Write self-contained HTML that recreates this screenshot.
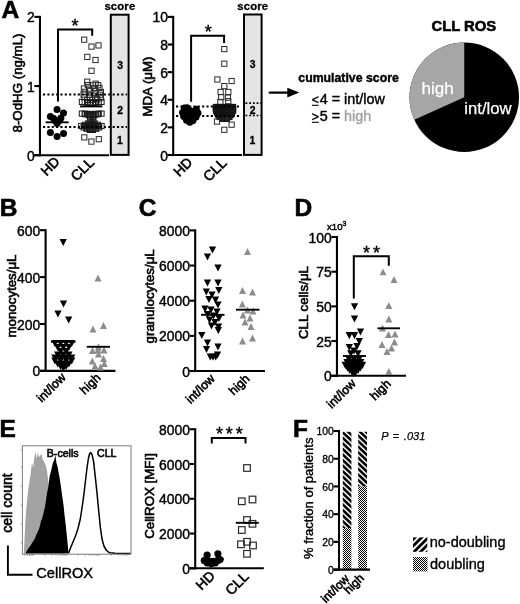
<!DOCTYPE html>
<html lang="en"><head><meta charset="utf-8"><title>CLL ROS figure</title>
<style>html,body{margin:0;padding:0;background:#fff}body{width:520px;height:604px;overflow:hidden}svg{display:block}text{font-family:"Liberation Sans",Arial,Helvetica,sans-serif}</style>
</head><body>
<svg width="520" height="604" viewBox="0 0 520 604">
<defs>
<pattern id="hb" width="4.06" height="4.06" patternUnits="userSpaceOnUse" patternTransform="rotate(43)"><rect width="4.06" height="4.06" fill="#fff"/><rect width="4.06" height="2.6" fill="#000"/></pattern>
<pattern id="hl" width="4.7" height="4.7" patternUnits="userSpaceOnUse" patternTransform="rotate(-45)"><rect width="4.7" height="4.7" fill="#fff"/><rect width="4.7" height="2.8" fill="#000"/></pattern>
<pattern id="ck" width="2" height="2" patternUnits="userSpaceOnUse"><rect width="2" height="2" fill="#fff"/><rect width="1" height="1" fill="#000"/><rect x="1" y="1" width="1" height="1" fill="#000"/></pattern>
</defs>
<rect width="520" height="604" fill="#fff"/>
<text x="1.50" y="18.30" font-size="24.5" text-anchor="start" font-weight="bold" fill="#000" stroke="#000" stroke-width="0.6">A</text>
<text x="-0.30" y="216.00" font-size="24.5" text-anchor="start" font-weight="bold" fill="#000" stroke="#000" stroke-width="0.6">B</text>
<text x="138.70" y="216.00" font-size="24.5" text-anchor="start" font-weight="bold" fill="#000" stroke="#000" stroke-width="0.6">C</text>
<text x="294.40" y="216.00" font-size="24.5" text-anchor="start" font-weight="bold" fill="#000" stroke="#000" stroke-width="0.6">D</text>
<text x="-0.50" y="437.30" font-size="24.5" text-anchor="start" font-weight="bold" fill="#000" stroke="#000" stroke-width="0.6">E</text>
<text x="293.00" y="437.20" font-size="24.5" text-anchor="start" font-weight="bold" fill="#000" stroke="#000" stroke-width="0.6">F</text>
<rect x="110.8" y="14.7" width="17.8" height="140.2" fill="#e4e4e4" stroke="#000" stroke-width="2"/>
<text x="119.90" y="9.80" font-size="11.3" text-anchor="middle" font-weight="bold" fill="#000" stroke="#000" stroke-width="0.3" letter-spacing="0.15">score</text>
<text x="120.20" y="69.00" font-size="10.4" text-anchor="middle" font-weight="bold" fill="#000" stroke="#000" stroke-width="0.3">3</text>
<text x="120.20" y="114.30" font-size="10.4" text-anchor="middle" font-weight="bold" fill="#000" stroke="#000" stroke-width="0.3">2</text>
<text x="119.80" y="144.20" font-size="10.4" text-anchor="middle" font-weight="bold" fill="#000" stroke="#000" stroke-width="0.3">1</text>
<line x1="39.95" y1="15.85" x2="39.95" y2="156.25" stroke="#000" stroke-width="2.1"/>
<line x1="34.35" y1="155.20" x2="109.00" y2="155.20" stroke="#000" stroke-width="2.1"/>
<line x1="34.35" y1="16.90" x2="39.95" y2="16.90" stroke="#000" stroke-width="2.1"/>
<text x="34.65" y="22.46" font-size="13.9" text-anchor="end" fill="#000" stroke="#000" stroke-width="0.4">2</text>
<line x1="34.35" y1="86.05" x2="39.95" y2="86.05" stroke="#000" stroke-width="2.1"/>
<text x="34.65" y="91.61" font-size="13.9" text-anchor="end" fill="#000" stroke="#000" stroke-width="0.4">1</text>
<line x1="34.35" y1="155.20" x2="39.95" y2="155.20" stroke="#000" stroke-width="2.1"/>
<text x="34.65" y="160.76" font-size="13.9" text-anchor="end" fill="#000" stroke="#000" stroke-width="0.4">0</text>
<text x="21.50" y="83.00" font-size="13.3" text-anchor="middle" fill="#000" stroke="#000" stroke-width="0.6" transform="rotate(-90 21.50 83.00)">8-OdHG (ng/mL)</text>
<rect x="81.60" y="37.10" width="5.20" height="5.20" fill="none" stroke="#2a2a2a" stroke-width="1.0"/>
<rect x="88.90" y="44.00" width="5.20" height="5.20" fill="none" stroke="#2a2a2a" stroke-width="1.0"/>
<rect x="95.90" y="42.80" width="5.20" height="5.20" fill="none" stroke="#2a2a2a" stroke-width="1.0"/>
<rect x="84.70" y="54.30" width="5.20" height="5.20" fill="none" stroke="#2a2a2a" stroke-width="1.0"/>
<rect x="92.90" y="57.40" width="5.20" height="5.20" fill="none" stroke="#2a2a2a" stroke-width="1.0"/>
<rect x="88.90" y="68.20" width="5.20" height="5.20" fill="none" stroke="#2a2a2a" stroke-width="1.0"/>
<rect x="84.60" y="79.10" width="5.20" height="5.20" fill="none" stroke="#2a2a2a" stroke-width="1.0"/>
<rect x="93.00" y="81.10" width="5.20" height="5.20" fill="none" stroke="#2a2a2a" stroke-width="1.0"/>
<rect x="85.20" y="82.44" width="5.20" height="5.20" fill="none" stroke="#2a2a2a" stroke-width="1.0"/>
<rect x="90.40" y="82.74" width="5.20" height="5.20" fill="none" stroke="#2a2a2a" stroke-width="1.0"/>
<rect x="95.60" y="82.57" width="5.20" height="5.20" fill="none" stroke="#2a2a2a" stroke-width="1.0"/>
<rect x="81.30" y="85.90" width="5.20" height="5.20" fill="none" stroke="#2a2a2a" stroke-width="1.0"/>
<rect x="86.50" y="85.93" width="5.20" height="5.20" fill="none" stroke="#2a2a2a" stroke-width="1.0"/>
<rect x="91.70" y="85.37" width="5.20" height="5.20" fill="none" stroke="#2a2a2a" stroke-width="1.0"/>
<rect x="96.90" y="85.31" width="5.20" height="5.20" fill="none" stroke="#2a2a2a" stroke-width="1.0"/>
<rect x="82.10" y="89.24" width="5.20" height="5.20" fill="none" stroke="#2a2a2a" stroke-width="1.0"/>
<rect x="87.50" y="88.66" width="5.20" height="5.20" fill="none" stroke="#2a2a2a" stroke-width="1.0"/>
<rect x="92.90" y="88.63" width="5.20" height="5.20" fill="none" stroke="#2a2a2a" stroke-width="1.0"/>
<rect x="98.30" y="89.40" width="5.20" height="5.20" fill="none" stroke="#2a2a2a" stroke-width="1.0"/>
<rect x="80.95" y="91.97" width="5.20" height="5.20" fill="none" stroke="#2a2a2a" stroke-width="1.0"/>
<rect x="86.45" y="92.34" width="5.20" height="5.20" fill="none" stroke="#2a2a2a" stroke-width="1.0"/>
<rect x="91.95" y="91.98" width="5.20" height="5.20" fill="none" stroke="#2a2a2a" stroke-width="1.0"/>
<rect x="97.45" y="92.14" width="5.20" height="5.20" fill="none" stroke="#2a2a2a" stroke-width="1.0"/>
<rect x="81.85" y="94.65" width="5.20" height="5.20" fill="none" stroke="#2a2a2a" stroke-width="1.0"/>
<rect x="87.35" y="95.13" width="5.20" height="5.20" fill="none" stroke="#2a2a2a" stroke-width="1.0"/>
<rect x="92.85" y="95.37" width="5.20" height="5.20" fill="none" stroke="#2a2a2a" stroke-width="1.0"/>
<rect x="98.35" y="95.02" width="5.20" height="5.20" fill="none" stroke="#2a2a2a" stroke-width="1.0"/>
<rect x="84.60" y="97.24" width="5.20" height="5.20" fill="none" stroke="#2a2a2a" stroke-width="1.0"/>
<rect x="89.60" y="97.17" width="5.20" height="5.20" fill="none" stroke="#2a2a2a" stroke-width="1.0"/>
<rect x="94.60" y="96.56" width="5.20" height="5.20" fill="none" stroke="#2a2a2a" stroke-width="1.0"/>
<rect x="79.30" y="99.30" width="5.20" height="5.20" fill="none" stroke="#1a1a1a" stroke-width="1.0"/>
<rect x="82.10" y="99.56" width="5.20" height="5.20" fill="none" stroke="#1a1a1a" stroke-width="1.0"/>
<rect x="84.90" y="99.81" width="5.20" height="5.20" fill="none" stroke="#1a1a1a" stroke-width="1.0"/>
<rect x="87.70" y="100.07" width="5.20" height="5.20" fill="none" stroke="#1a1a1a" stroke-width="1.0"/>
<rect x="90.50" y="100.07" width="5.20" height="5.20" fill="none" stroke="#1a1a1a" stroke-width="1.0"/>
<rect x="93.30" y="99.81" width="5.20" height="5.20" fill="none" stroke="#1a1a1a" stroke-width="1.0"/>
<rect x="96.10" y="99.56" width="5.20" height="5.20" fill="none" stroke="#1a1a1a" stroke-width="1.0"/>
<rect x="98.90" y="99.30" width="5.20" height="5.20" fill="none" stroke="#1a1a1a" stroke-width="1.0"/>
<rect x="85.50" y="100.00" width="5.20" height="5.20" fill="none" stroke="#1a1a1a" stroke-width="1.0"/>
<rect x="87.90" y="100.40" width="5.20" height="5.20" fill="none" stroke="#1a1a1a" stroke-width="1.0"/>
<rect x="90.30" y="100.40" width="5.20" height="5.20" fill="none" stroke="#1a1a1a" stroke-width="1.0"/>
<rect x="92.70" y="100.00" width="5.20" height="5.20" fill="none" stroke="#1a1a1a" stroke-width="1.0"/>
<rect x="79.30" y="111.00" width="5.20" height="5.20" fill="none" stroke="#1a1a1a" stroke-width="1.0"/>
<rect x="82.10" y="111.14" width="5.20" height="5.20" fill="none" stroke="#1a1a1a" stroke-width="1.0"/>
<rect x="84.90" y="111.29" width="5.20" height="5.20" fill="none" stroke="#1a1a1a" stroke-width="1.0"/>
<rect x="87.70" y="111.43" width="5.20" height="5.20" fill="none" stroke="#1a1a1a" stroke-width="1.0"/>
<rect x="90.50" y="111.43" width="5.20" height="5.20" fill="none" stroke="#1a1a1a" stroke-width="1.0"/>
<rect x="93.30" y="111.29" width="5.20" height="5.20" fill="none" stroke="#1a1a1a" stroke-width="1.0"/>
<rect x="96.10" y="111.14" width="5.20" height="5.20" fill="none" stroke="#1a1a1a" stroke-width="1.0"/>
<rect x="98.90" y="111.00" width="5.20" height="5.20" fill="none" stroke="#1a1a1a" stroke-width="1.0"/>
<rect x="82.85" y="111.60" width="5.20" height="5.20" fill="none" stroke="#1a1a1a" stroke-width="1.0"/>
<rect x="85.35" y="111.88" width="5.20" height="5.20" fill="none" stroke="#1a1a1a" stroke-width="1.0"/>
<rect x="87.85" y="112.16" width="5.20" height="5.20" fill="none" stroke="#1a1a1a" stroke-width="1.0"/>
<rect x="90.35" y="112.16" width="5.20" height="5.20" fill="none" stroke="#1a1a1a" stroke-width="1.0"/>
<rect x="92.85" y="111.88" width="5.20" height="5.20" fill="none" stroke="#1a1a1a" stroke-width="1.0"/>
<rect x="95.35" y="111.60" width="5.20" height="5.20" fill="none" stroke="#1a1a1a" stroke-width="1.0"/>
<rect x="86.50" y="112.60" width="5.20" height="5.20" fill="none" stroke="#1a1a1a" stroke-width="1.0"/>
<rect x="89.10" y="113.00" width="5.20" height="5.20" fill="none" stroke="#1a1a1a" stroke-width="1.0"/>
<rect x="91.70" y="112.60" width="5.20" height="5.20" fill="none" stroke="#1a1a1a" stroke-width="1.0"/>
<rect x="87.60" y="114.40" width="5.20" height="5.20" fill="none" stroke="#1a1a1a" stroke-width="1.0"/>
<rect x="90.60" y="114.40" width="5.20" height="5.20" fill="none" stroke="#1a1a1a" stroke-width="1.0"/>
<rect x="87.60" y="116.90" width="5.20" height="5.20" fill="none" stroke="#1a1a1a" stroke-width="1.0"/>
<rect x="90.60" y="116.90" width="5.20" height="5.20" fill="none" stroke="#1a1a1a" stroke-width="1.0"/>
<rect x="85.60" y="120.80" width="5.20" height="5.20" fill="none" stroke="#1a1a1a" stroke-width="1.0"/>
<rect x="88.80" y="120.80" width="5.20" height="5.20" fill="none" stroke="#1a1a1a" stroke-width="1.0"/>
<rect x="92.00" y="120.80" width="5.20" height="5.20" fill="none" stroke="#1a1a1a" stroke-width="1.0"/>
<rect x="82.40" y="122.20" width="5.20" height="5.20" fill="none" stroke="#1a1a1a" stroke-width="1.0"/>
<rect x="85.60" y="122.20" width="5.20" height="5.20" fill="none" stroke="#1a1a1a" stroke-width="1.0"/>
<rect x="88.80" y="122.20" width="5.20" height="5.20" fill="none" stroke="#1a1a1a" stroke-width="1.0"/>
<rect x="92.00" y="122.20" width="5.20" height="5.20" fill="none" stroke="#1a1a1a" stroke-width="1.0"/>
<rect x="95.20" y="122.20" width="5.20" height="5.20" fill="none" stroke="#1a1a1a" stroke-width="1.0"/>
<rect x="78.65" y="123.40" width="5.20" height="5.20" fill="none" stroke="#1a1a1a" stroke-width="1.0"/>
<rect x="81.55" y="123.40" width="5.20" height="5.20" fill="none" stroke="#1a1a1a" stroke-width="1.0"/>
<rect x="84.45" y="123.40" width="5.20" height="5.20" fill="none" stroke="#1a1a1a" stroke-width="1.0"/>
<rect x="87.35" y="123.40" width="5.20" height="5.20" fill="none" stroke="#1a1a1a" stroke-width="1.0"/>
<rect x="90.25" y="123.40" width="5.20" height="5.20" fill="none" stroke="#1a1a1a" stroke-width="1.0"/>
<rect x="93.15" y="123.40" width="5.20" height="5.20" fill="none" stroke="#1a1a1a" stroke-width="1.0"/>
<rect x="96.05" y="123.40" width="5.20" height="5.20" fill="none" stroke="#1a1a1a" stroke-width="1.0"/>
<rect x="98.95" y="123.40" width="5.20" height="5.20" fill="none" stroke="#1a1a1a" stroke-width="1.0"/>
<rect x="81.05" y="124.80" width="5.20" height="5.20" fill="none" stroke="#1a1a1a" stroke-width="1.0"/>
<rect x="84.15" y="124.80" width="5.20" height="5.20" fill="none" stroke="#1a1a1a" stroke-width="1.0"/>
<rect x="87.25" y="124.80" width="5.20" height="5.20" fill="none" stroke="#1a1a1a" stroke-width="1.0"/>
<rect x="90.35" y="124.80" width="5.20" height="5.20" fill="none" stroke="#1a1a1a" stroke-width="1.0"/>
<rect x="93.45" y="124.80" width="5.20" height="5.20" fill="none" stroke="#1a1a1a" stroke-width="1.0"/>
<rect x="96.55" y="124.80" width="5.20" height="5.20" fill="none" stroke="#1a1a1a" stroke-width="1.0"/>
<rect x="84.00" y="126.20" width="5.20" height="5.20" fill="none" stroke="#1a1a1a" stroke-width="1.0"/>
<rect x="87.20" y="126.20" width="5.20" height="5.20" fill="none" stroke="#1a1a1a" stroke-width="1.0"/>
<rect x="90.40" y="126.20" width="5.20" height="5.20" fill="none" stroke="#1a1a1a" stroke-width="1.0"/>
<rect x="93.60" y="126.20" width="5.20" height="5.20" fill="none" stroke="#1a1a1a" stroke-width="1.0"/>
<rect x="87.30" y="127.30" width="5.20" height="5.20" fill="none" stroke="#1a1a1a" stroke-width="1.0"/>
<rect x="90.30" y="127.30" width="5.20" height="5.20" fill="none" stroke="#1a1a1a" stroke-width="1.0"/>
<rect x="81.70" y="134.80" width="5.20" height="5.20" fill="none" stroke="#2a2a2a" stroke-width="1.0"/>
<rect x="88.80" y="139.00" width="5.20" height="5.20" fill="none" stroke="#2a2a2a" stroke-width="1.0"/>
<rect x="96.20" y="136.60" width="5.20" height="5.20" fill="none" stroke="#2a2a2a" stroke-width="1.0"/>
<circle cx="57.05" cy="109.40" r="3.5" fill="#000"/>
<circle cx="63.50" cy="112.90" r="3.5" fill="#000"/>
<circle cx="50.40" cy="116.40" r="3.5" fill="#000"/>
<circle cx="53.60" cy="118.40" r="3.5" fill="#000"/>
<circle cx="60.90" cy="118.10" r="3.5" fill="#000"/>
<circle cx="55.20" cy="120.60" r="3.5" fill="#000"/>
<circle cx="59.30" cy="120.60" r="3.5" fill="#000"/>
<circle cx="57.05" cy="123.40" r="3.5" fill="#000"/>
<circle cx="50.40" cy="132.40" r="3.5" fill="#000"/>
<circle cx="57.05" cy="136.50" r="3.5" fill="#000"/>
<circle cx="63.50" cy="133.40" r="3.5" fill="#000"/>
<line x1="45.60" y1="122.30" x2="68.60" y2="122.30" stroke="#000" stroke-width="1.9"/>
<line x1="80.00" y1="106.40" x2="102.40" y2="106.40" stroke="#000" stroke-width="1.9"/>
<line x1="43.00" y1="94.40" x2="127.00" y2="94.40" stroke="#000" stroke-width="2.0" stroke-dasharray="2.15 2.2"/>
<line x1="43.00" y1="127.00" x2="127.00" y2="127.00" stroke="#000" stroke-width="2.0" stroke-dasharray="2.15 2.2"/>
<path d="M58.00 101.50V29.60H92.20V35.80" fill="none" stroke="#000" stroke-width="2.0" stroke-linejoin="miter"/>
<text x="76.45" y="31.50" font-size="18" text-anchor="middle" fill="#000" stroke="#000" stroke-width="0.4" letter-spacing="2.9">*</text>
<text x="60.50" y="162.50" font-size="13.8" text-anchor="end" fill="#000" stroke="#000" stroke-width="0.6" transform="rotate(-45 60.50 162.50)">HD</text>
<text x="95.00" y="163.30" font-size="14.2" text-anchor="end" fill="#000" stroke="#000" stroke-width="0.6" transform="rotate(-45 95.00 163.30)">CLL</text>
<rect x="244.0" y="14.5" width="17.6" height="140.4" fill="#e4e4e4" stroke="#000" stroke-width="2"/>
<text x="252.80" y="9.60" font-size="11.3" text-anchor="middle" font-weight="bold" fill="#000" stroke="#000" stroke-width="0.3" letter-spacing="0.15">score</text>
<text x="252.70" y="68.00" font-size="10.4" text-anchor="middle" font-weight="bold" fill="#000" stroke="#000" stroke-width="0.3">3</text>
<text x="252.70" y="114.20" font-size="10.4" text-anchor="middle" font-weight="bold" fill="#000" stroke="#000" stroke-width="0.3">2</text>
<text x="252.50" y="143.70" font-size="10.4" text-anchor="middle" font-weight="bold" fill="#000" stroke="#000" stroke-width="0.3">1</text>
<line x1="173.20" y1="15.85" x2="173.20" y2="156.05" stroke="#000" stroke-width="2.1"/>
<line x1="167.60" y1="155.00" x2="242.00" y2="155.00" stroke="#000" stroke-width="2.1"/>
<line x1="167.60" y1="16.90" x2="173.20" y2="16.90" stroke="#000" stroke-width="2.1"/>
<text x="167.90" y="22.46" font-size="13.9" text-anchor="end" fill="#000" stroke="#000" stroke-width="0.4">10</text>
<line x1="167.60" y1="44.52" x2="173.20" y2="44.52" stroke="#000" stroke-width="2.1"/>
<text x="167.90" y="50.08" font-size="13.9" text-anchor="end" fill="#000" stroke="#000" stroke-width="0.4">8</text>
<line x1="167.60" y1="72.14" x2="173.20" y2="72.14" stroke="#000" stroke-width="2.1"/>
<text x="167.90" y="77.70" font-size="13.9" text-anchor="end" fill="#000" stroke="#000" stroke-width="0.4">6</text>
<line x1="167.60" y1="99.76" x2="173.20" y2="99.76" stroke="#000" stroke-width="2.1"/>
<text x="167.90" y="105.32" font-size="13.9" text-anchor="end" fill="#000" stroke="#000" stroke-width="0.4">4</text>
<line x1="167.60" y1="127.38" x2="173.20" y2="127.38" stroke="#000" stroke-width="2.1"/>
<text x="167.90" y="132.94" font-size="13.9" text-anchor="end" fill="#000" stroke="#000" stroke-width="0.4">2</text>
<line x1="167.60" y1="155.00" x2="173.20" y2="155.00" stroke="#000" stroke-width="2.1"/>
<text x="167.90" y="160.56" font-size="13.9" text-anchor="end" fill="#000" stroke="#000" stroke-width="0.4">0</text>
<text x="151.50" y="86.50" font-size="13.3" text-anchor="middle" fill="#000" stroke="#000" stroke-width="0.6" transform="rotate(-90 151.50 86.50)">MDA (&#956;M)</text>
<rect x="221.70" y="46.50" width="5.20" height="5.20" fill="none" stroke="#2a2a2a" stroke-width="1.0"/>
<rect x="221.70" y="61.10" width="5.20" height="5.20" fill="none" stroke="#2a2a2a" stroke-width="1.0"/>
<rect x="214.80" y="76.90" width="5.20" height="5.20" fill="none" stroke="#2a2a2a" stroke-width="1.0"/>
<rect x="229.00" y="78.40" width="5.20" height="5.20" fill="none" stroke="#2a2a2a" stroke-width="1.0"/>
<rect x="221.70" y="83.50" width="5.20" height="5.20" fill="none" stroke="#2a2a2a" stroke-width="1.0"/>
<rect x="218.00" y="89.40" width="5.20" height="5.20" fill="none" stroke="#2a2a2a" stroke-width="1.0"/>
<rect x="225.70" y="89.40" width="5.20" height="5.20" fill="none" stroke="#2a2a2a" stroke-width="1.0"/>
<rect x="218.60" y="94.60" width="5.20" height="5.20" fill="none" stroke="#2a2a2a" stroke-width="1.0"/>
<rect x="225.30" y="95.00" width="5.20" height="5.20" fill="none" stroke="#2a2a2a" stroke-width="1.0"/>
<rect x="217.80" y="99.40" width="5.20" height="5.20" fill="none" stroke="#2a2a2a" stroke-width="1.0"/>
<rect x="225.70" y="98.60" width="5.20" height="5.20" fill="none" stroke="#2a2a2a" stroke-width="1.0"/>
<rect x="213.33" y="104.40" width="5.20" height="5.20" fill="#222" stroke="#111" stroke-width="1.0"/>
<rect x="215.78" y="104.40" width="5.20" height="5.20" fill="#222" stroke="#111" stroke-width="1.0"/>
<rect x="218.22" y="104.40" width="5.20" height="5.20" fill="#222" stroke="#111" stroke-width="1.0"/>
<rect x="220.68" y="104.40" width="5.20" height="5.20" fill="#222" stroke="#111" stroke-width="1.0"/>
<rect x="223.12" y="104.40" width="5.20" height="5.20" fill="#222" stroke="#111" stroke-width="1.0"/>
<rect x="225.58" y="104.40" width="5.20" height="5.20" fill="#222" stroke="#111" stroke-width="1.0"/>
<rect x="228.03" y="104.40" width="5.20" height="5.20" fill="#222" stroke="#111" stroke-width="1.0"/>
<rect x="230.47" y="104.40" width="5.20" height="5.20" fill="#222" stroke="#111" stroke-width="1.0"/>
<rect x="213.33" y="106.40" width="5.20" height="5.20" fill="#222" stroke="#111" stroke-width="1.0"/>
<rect x="215.78" y="106.40" width="5.20" height="5.20" fill="#222" stroke="#111" stroke-width="1.0"/>
<rect x="218.22" y="106.40" width="5.20" height="5.20" fill="#222" stroke="#111" stroke-width="1.0"/>
<rect x="220.68" y="106.40" width="5.20" height="5.20" fill="#222" stroke="#111" stroke-width="1.0"/>
<rect x="223.12" y="106.40" width="5.20" height="5.20" fill="#222" stroke="#111" stroke-width="1.0"/>
<rect x="225.58" y="106.40" width="5.20" height="5.20" fill="#222" stroke="#111" stroke-width="1.0"/>
<rect x="228.03" y="106.40" width="5.20" height="5.20" fill="#222" stroke="#111" stroke-width="1.0"/>
<rect x="230.47" y="106.40" width="5.20" height="5.20" fill="#222" stroke="#111" stroke-width="1.0"/>
<rect x="213.33" y="108.40" width="5.20" height="5.20" fill="#222" stroke="#111" stroke-width="1.0"/>
<rect x="215.78" y="108.40" width="5.20" height="5.20" fill="#222" stroke="#111" stroke-width="1.0"/>
<rect x="218.22" y="108.40" width="5.20" height="5.20" fill="#222" stroke="#111" stroke-width="1.0"/>
<rect x="220.68" y="108.40" width="5.20" height="5.20" fill="#222" stroke="#111" stroke-width="1.0"/>
<rect x="223.12" y="108.40" width="5.20" height="5.20" fill="#222" stroke="#111" stroke-width="1.0"/>
<rect x="225.58" y="108.40" width="5.20" height="5.20" fill="#222" stroke="#111" stroke-width="1.0"/>
<rect x="228.03" y="108.40" width="5.20" height="5.20" fill="#222" stroke="#111" stroke-width="1.0"/>
<rect x="230.47" y="108.40" width="5.20" height="5.20" fill="#222" stroke="#111" stroke-width="1.0"/>
<rect x="214.55" y="110.40" width="5.20" height="5.20" fill="#222" stroke="#111" stroke-width="1.0"/>
<rect x="217.00" y="110.40" width="5.20" height="5.20" fill="#222" stroke="#111" stroke-width="1.0"/>
<rect x="219.45" y="110.40" width="5.20" height="5.20" fill="#222" stroke="#111" stroke-width="1.0"/>
<rect x="221.90" y="110.40" width="5.20" height="5.20" fill="#222" stroke="#111" stroke-width="1.0"/>
<rect x="224.35" y="110.40" width="5.20" height="5.20" fill="#222" stroke="#111" stroke-width="1.0"/>
<rect x="226.80" y="110.40" width="5.20" height="5.20" fill="#222" stroke="#111" stroke-width="1.0"/>
<rect x="229.25" y="110.40" width="5.20" height="5.20" fill="#222" stroke="#111" stroke-width="1.0"/>
<rect x="215.78" y="112.40" width="5.20" height="5.20" fill="#222" stroke="#111" stroke-width="1.0"/>
<rect x="218.22" y="112.40" width="5.20" height="5.20" fill="#222" stroke="#111" stroke-width="1.0"/>
<rect x="220.68" y="112.40" width="5.20" height="5.20" fill="#222" stroke="#111" stroke-width="1.0"/>
<rect x="223.12" y="112.40" width="5.20" height="5.20" fill="#222" stroke="#111" stroke-width="1.0"/>
<rect x="225.58" y="112.40" width="5.20" height="5.20" fill="#222" stroke="#111" stroke-width="1.0"/>
<rect x="228.03" y="112.40" width="5.20" height="5.20" fill="#222" stroke="#111" stroke-width="1.0"/>
<rect x="217.00" y="114.40" width="5.20" height="5.20" fill="#222" stroke="#111" stroke-width="1.0"/>
<rect x="219.45" y="114.40" width="5.20" height="5.20" fill="#222" stroke="#111" stroke-width="1.0"/>
<rect x="221.90" y="114.40" width="5.20" height="5.20" fill="#222" stroke="#111" stroke-width="1.0"/>
<rect x="224.35" y="114.40" width="5.20" height="5.20" fill="#222" stroke="#111" stroke-width="1.0"/>
<rect x="226.80" y="114.40" width="5.20" height="5.20" fill="#222" stroke="#111" stroke-width="1.0"/>
<rect x="219.45" y="116.20" width="5.20" height="5.20" fill="#222" stroke="#111" stroke-width="1.0"/>
<rect x="221.90" y="116.20" width="5.20" height="5.20" fill="#222" stroke="#111" stroke-width="1.0"/>
<rect x="224.35" y="116.20" width="5.20" height="5.20" fill="#222" stroke="#111" stroke-width="1.0"/>
<rect x="214.40" y="119.00" width="5.20" height="5.20" fill="none" stroke="#2a2a2a" stroke-width="1.0"/>
<rect x="229.00" y="122.10" width="5.20" height="5.20" fill="none" stroke="#2a2a2a" stroke-width="1.0"/>
<rect x="221.70" y="127.20" width="5.20" height="5.20" fill="none" stroke="#2a2a2a" stroke-width="1.0"/>
<circle cx="184.30" cy="108.00" r="3.5" fill="#000"/>
<circle cx="190.00" cy="110.50" r="3.5" fill="#000"/>
<circle cx="196.30" cy="109.30" r="3.5" fill="#000"/>
<circle cx="182.50" cy="112.50" r="3.5" fill="#000"/>
<circle cx="187.00" cy="112.00" r="3.5" fill="#000"/>
<circle cx="193.00" cy="113.00" r="3.5" fill="#000"/>
<circle cx="198.00" cy="113.00" r="3.5" fill="#000"/>
<circle cx="183.80" cy="116.50" r="3.5" fill="#000"/>
<circle cx="190.00" cy="116.00" r="3.5" fill="#000"/>
<circle cx="196.00" cy="117.00" r="3.5" fill="#000"/>
<circle cx="186.50" cy="120.30" r="3.5" fill="#000"/>
<circle cx="193.00" cy="120.50" r="3.5" fill="#000"/>
<circle cx="189.80" cy="122.20" r="3.5" fill="#000"/>
<circle cx="187.00" cy="107.70" r="3.5" fill="#000"/>
<line x1="176.00" y1="106.50" x2="241.00" y2="106.50" stroke="#000" stroke-width="2.0" stroke-dasharray="2.15 2.2"/>
<line x1="176.00" y1="116.00" x2="241.00" y2="116.00" stroke="#000" stroke-width="2.0" stroke-dasharray="2.15 2.2"/>
<line x1="245.50" y1="103.10" x2="261.00" y2="103.10" stroke="#000" stroke-width="1.6" stroke-dasharray="1.8 1.9"/>
<line x1="245.50" y1="115.50" x2="261.00" y2="115.50" stroke="#000" stroke-width="1.6" stroke-dasharray="1.8 1.9"/>
<path d="M191.10 101.70V35.70H224.10V42.90" fill="none" stroke="#000" stroke-width="2.0" stroke-linejoin="miter"/>
<text x="209.60" y="38.40" font-size="18" text-anchor="middle" fill="#000" stroke="#000" stroke-width="0.4" letter-spacing="2.9">*</text>
<text x="193.40" y="163.10" font-size="13.8" text-anchor="end" fill="#000" stroke="#000" stroke-width="0.6" transform="rotate(-45 193.40 163.10)">HD</text>
<text x="227.50" y="163.80" font-size="14.2" text-anchor="end" fill="#000" stroke="#000" stroke-width="0.6" transform="rotate(-45 227.50 163.80)">CLL</text>
<line x1="269.60" y1="92.60" x2="292.00" y2="92.60" stroke="#000" stroke-width="2.1" stroke-linecap="round"/>
<path d="M287.3 87.8L299.3 92.6L287.3 97.4Z" fill="#000"/>
<text x="298.30" y="81.60" font-size="12.3" text-anchor="start" font-weight="bold" fill="#000" stroke="#000" stroke-width="0.4">cumulative score</text>
<text x="311.70" y="104.20" font-size="14.4" text-anchor="start" fill="#000" stroke="#000" stroke-width="0.4"><tspan font-size="12.2" dy="-0.6">&lt;</tspan><tspan dx="0.8" dy="0.6">4 = int/low</tspan></text>
<line x1="311.90" y1="105.30" x2="318.70" y2="105.30" stroke="#000" stroke-width="1.1"/>
<line x1="311.90" y1="122.30" x2="318.70" y2="122.30" stroke="#000" stroke-width="1.1"/>
<text x="311.70" y="121.20" font-size="14.4" text-anchor="start" fill="#000" stroke="#000" stroke-width="0.4"><tspan font-size="12.2" dy="-0.6">&gt;</tspan><tspan dx="0.8" dy="0.6">5 = </tspan><tspan fill="#a3a3a3" stroke="#a3a3a3">high</tspan></text>
<circle cx="464.25" cy="97.25" r="54.75" fill="#000"/>
<path d="M464.25 97.25L464.25 42.5A54.75 54.75 0 0 0 414.35 119.78Z" fill="#a6a6a6"/>
<text x="463.80" y="31.20" font-size="14.8" text-anchor="middle" font-weight="bold" fill="#000" stroke="#000" stroke-width="0.6">CLL ROS</text>
<text x="421.60" y="93.80" font-size="17" text-anchor="start" fill="#fff" stroke="#fff" stroke-width="0.25">high</text>
<text x="464.30" y="114.20" font-size="16.7" text-anchor="start" fill="#fff" stroke="#fff" stroke-width="0.25">int/low</text>
<line x1="45.60" y1="229.15" x2="45.60" y2="371.95" stroke="#000" stroke-width="2.1"/>
<line x1="40.00" y1="370.90" x2="115.50" y2="370.90" stroke="#000" stroke-width="2.1"/>
<line x1="40.00" y1="230.20" x2="45.60" y2="230.20" stroke="#000" stroke-width="2.1"/>
<text x="40.30" y="235.76" font-size="13.9" text-anchor="end" fill="#000" stroke="#000" stroke-width="0.4">600</text>
<line x1="40.00" y1="277.10" x2="45.60" y2="277.10" stroke="#000" stroke-width="2.1"/>
<text x="40.30" y="282.66" font-size="13.9" text-anchor="end" fill="#000" stroke="#000" stroke-width="0.4">400</text>
<line x1="40.00" y1="324.00" x2="45.60" y2="324.00" stroke="#000" stroke-width="2.1"/>
<text x="40.30" y="329.56" font-size="13.9" text-anchor="end" fill="#000" stroke="#000" stroke-width="0.4">200</text>
<line x1="40.00" y1="370.90" x2="45.60" y2="370.90" stroke="#000" stroke-width="2.1"/>
<text x="40.30" y="376.46" font-size="13.9" text-anchor="end" fill="#000" stroke="#000" stroke-width="0.4">0</text>
<text x="16.00" y="296.00" font-size="13.3" text-anchor="middle" fill="#000" stroke="#000" stroke-width="0.6" transform="rotate(-90 16.00 296.00)">monocytes/&#956;L</text>
<path d="M59.55 238.96H66.85L63.20 246.04Z" fill="#000"/>
<path d="M59.85 300.46H67.15L63.50 307.54Z" fill="#000"/>
<path d="M54.35 310.46H61.65L58.00 317.54Z" fill="#000"/>
<path d="M65.05 316.46H72.35L68.70 323.54Z" fill="#000"/>
<path d="M51.25 339.96H58.55L54.90 347.04Z" fill="#000"/>
<path d="M56.85 339.96H64.15L60.50 347.04Z" fill="#000"/>
<path d="M62.45 339.96H69.75L66.10 347.04Z" fill="#000"/>
<path d="M68.05 339.96H75.35L71.70 347.04Z" fill="#000"/>
<path d="M54.05 343.96H61.35L57.70 351.04Z" fill="#000"/>
<path d="M59.65 343.96H66.95L63.30 351.04Z" fill="#000"/>
<path d="M65.25 343.96H72.55L68.90 351.04Z" fill="#000"/>
<path d="M56.85 347.96H64.15L60.50 355.04Z" fill="#000"/>
<path d="M62.45 347.96H69.75L66.10 355.04Z" fill="#000"/>
<path d="M54.05 351.46H61.35L57.70 358.54Z" fill="#000"/>
<path d="M59.65 351.46H66.95L63.30 358.54Z" fill="#000"/>
<path d="M65.25 351.46H72.55L68.90 358.54Z" fill="#000"/>
<path d="M51.25 354.46H58.55L54.90 361.54Z" fill="#000"/>
<path d="M56.85 354.46H64.15L60.50 361.54Z" fill="#000"/>
<path d="M62.45 354.46H69.75L66.10 361.54Z" fill="#000"/>
<path d="M68.05 354.46H75.35L71.70 361.54Z" fill="#000"/>
<path d="M51.25 357.46H58.55L54.90 364.54Z" fill="#000"/>
<path d="M56.85 357.46H64.15L60.50 364.54Z" fill="#000"/>
<path d="M62.45 357.46H69.75L66.10 364.54Z" fill="#000"/>
<path d="M68.05 357.46H75.35L71.70 364.54Z" fill="#000"/>
<path d="M54.05 360.46H61.35L57.70 367.54Z" fill="#000"/>
<path d="M59.65 360.46H66.95L63.30 367.54Z" fill="#000"/>
<path d="M65.25 360.46H72.55L68.90 367.54Z" fill="#000"/>
<path d="M56.85 362.96H64.15L60.50 370.04Z" fill="#000"/>
<path d="M62.45 362.96H69.75L66.10 370.04Z" fill="#000"/>
<path d="M59.65 364.96H66.95L63.30 372.04Z" fill="#000"/>
<path d="M94.50 281.39H101.50L98.00 274.61Z" fill="#8c8c8c"/>
<path d="M89.50 332.39H96.50L93.00 325.61Z" fill="#8c8c8c"/>
<path d="M100.00 328.89H107.00L103.50 322.11Z" fill="#8c8c8c"/>
<path d="M94.80 350.39H101.80L98.30 343.61Z" fill="#8c8c8c"/>
<path d="M89.00 353.89H96.00L92.50 347.11Z" fill="#8c8c8c"/>
<path d="M100.50 353.39H107.50L104.00 346.61Z" fill="#8c8c8c"/>
<path d="M95.00 357.39H102.00L98.50 350.61Z" fill="#8c8c8c"/>
<path d="M100.00 361.89H107.00L103.50 355.11Z" fill="#8c8c8c"/>
<path d="M88.80 364.39H95.80L92.30 357.61Z" fill="#8c8c8c"/>
<path d="M100.80 366.89H107.80L104.30 360.11Z" fill="#8c8c8c"/>
<path d="M91.50 369.39H98.50L95.00 362.61Z" fill="#8c8c8c"/>
<path d="M97.00 370.39H104.00L100.50 363.61Z" fill="#8c8c8c"/>
<path d="M94.50 353.39H101.50L98.00 346.61Z" fill="#8c8c8c"/>
<line x1="51.00" y1="341.80" x2="75.50" y2="341.80" stroke="#000" stroke-width="1.9"/>
<line x1="86.80" y1="346.80" x2="110.00" y2="346.80" stroke="#000" stroke-width="1.9"/>
<text x="66.50" y="378.20" font-size="12.3" text-anchor="end" fill="#000" stroke="#000" stroke-width="0.6" transform="rotate(-45 66.50 378.20)">int/low</text>
<text x="101.30" y="378.50" font-size="12.3" text-anchor="end" fill="#000" stroke="#000" stroke-width="0.6" transform="rotate(-45 101.30 378.50)">high</text>
<line x1="195.20" y1="229.35" x2="195.20" y2="372.05" stroke="#000" stroke-width="2.1"/>
<line x1="189.60" y1="371.00" x2="265.00" y2="371.00" stroke="#000" stroke-width="2.1"/>
<line x1="189.60" y1="230.40" x2="195.20" y2="230.40" stroke="#000" stroke-width="2.1"/>
<text x="189.90" y="235.96" font-size="13.9" text-anchor="end" fill="#000" stroke="#000" stroke-width="0.4">8000</text>
<line x1="189.60" y1="265.55" x2="195.20" y2="265.55" stroke="#000" stroke-width="2.1"/>
<text x="189.90" y="271.11" font-size="13.9" text-anchor="end" fill="#000" stroke="#000" stroke-width="0.4">6000</text>
<line x1="189.60" y1="300.70" x2="195.20" y2="300.70" stroke="#000" stroke-width="2.1"/>
<text x="189.90" y="306.26" font-size="13.9" text-anchor="end" fill="#000" stroke="#000" stroke-width="0.4">4000</text>
<line x1="189.60" y1="335.85" x2="195.20" y2="335.85" stroke="#000" stroke-width="2.1"/>
<text x="189.90" y="341.41" font-size="13.9" text-anchor="end" fill="#000" stroke="#000" stroke-width="0.4">2000</text>
<line x1="189.60" y1="371.00" x2="195.20" y2="371.00" stroke="#000" stroke-width="2.1"/>
<text x="189.90" y="376.56" font-size="13.9" text-anchor="end" fill="#000" stroke="#000" stroke-width="0.4">0</text>
<text x="153.60" y="296.30" font-size="13.3" text-anchor="middle" fill="#000" stroke="#000" stroke-width="0.6" transform="rotate(-90 153.60 296.30)">granulocytes/&#956;L</text>
<path d="M208.85 246.46H216.15L212.50 253.54Z" fill="#000"/>
<path d="M203.85 253.46H211.15L207.50 260.54Z" fill="#000"/>
<path d="M214.35 264.46H221.65L218.00 271.54Z" fill="#000"/>
<path d="M203.85 279.46H211.15L207.50 286.54Z" fill="#000"/>
<path d="M214.35 279.46H221.65L218.00 286.54Z" fill="#000"/>
<path d="M215.15 286.96H222.45L218.80 294.04Z" fill="#000"/>
<path d="M202.65 288.46H209.95L206.30 295.54Z" fill="#000"/>
<path d="M208.35 291.46H215.65L212.00 298.54Z" fill="#000"/>
<path d="M205.35 295.96H212.65L209.00 303.04Z" fill="#000"/>
<path d="M211.85 296.46H219.15L215.50 303.54Z" fill="#000"/>
<path d="M214.35 301.46H221.65L218.00 308.54Z" fill="#000"/>
<path d="M201.35 305.46H208.65L205.00 312.54Z" fill="#000"/>
<path d="M207.35 306.46H214.65L211.00 313.54Z" fill="#000"/>
<path d="M213.35 308.46H220.65L217.00 315.54Z" fill="#000"/>
<path d="M203.85 310.96H211.15L207.50 318.04Z" fill="#000"/>
<path d="M209.85 312.46H217.15L213.50 319.54Z" fill="#000"/>
<path d="M215.35 314.96H222.65L219.00 322.04Z" fill="#000"/>
<path d="M205.85 316.46H213.15L209.50 323.54Z" fill="#000"/>
<path d="M211.35 318.96H218.65L215.00 326.04Z" fill="#000"/>
<path d="M214.85 323.46H222.15L218.50 330.54Z" fill="#000"/>
<path d="M207.85 322.46H215.15L211.50 329.54Z" fill="#000"/>
<path d="M198.15 331.96H205.45L201.80 339.04Z" fill="#000"/>
<path d="M203.85 339.46H211.15L207.50 346.54Z" fill="#000"/>
<path d="M214.35 343.46H221.65L218.00 350.54Z" fill="#000"/>
<path d="M202.85 345.96H210.15L206.50 353.04Z" fill="#000"/>
<path d="M213.85 351.46H221.15L217.50 358.54Z" fill="#000"/>
<path d="M206.65 353.46H213.95L210.30 360.54Z" fill="#000"/>
<path d="M209.35 353.66H216.65L213.00 360.74Z" fill="#000"/>
<path d="M212.05 353.46H219.35L215.70 360.54Z" fill="#000"/>
<path d="M214.65 326.96H221.95L218.30 334.04Z" fill="#000"/>
<path d="M244.00 254.90H251.00L247.50 248.10Z" fill="#8c8c8c"/>
<path d="M239.00 293.89H246.00L242.50 287.11Z" fill="#8c8c8c"/>
<path d="M249.00 295.39H256.00L252.50 288.61Z" fill="#8c8c8c"/>
<path d="M238.80 307.39H245.80L242.30 300.61Z" fill="#8c8c8c"/>
<path d="M244.00 313.39H251.00L247.50 306.61Z" fill="#8c8c8c"/>
<path d="M249.50 314.39H256.50L253.00 307.61Z" fill="#8c8c8c"/>
<path d="M239.50 318.39H246.50L243.00 311.61Z" fill="#8c8c8c"/>
<path d="M246.50 321.39H253.50L250.00 314.61Z" fill="#8c8c8c"/>
<path d="M241.50 325.39H248.50L245.00 318.61Z" fill="#8c8c8c"/>
<path d="M247.50 329.89H254.50L251.00 323.11Z" fill="#8c8c8c"/>
<path d="M239.00 344.39H246.00L242.50 337.61Z" fill="#8c8c8c"/>
<path d="M249.00 341.39H256.00L252.50 334.61Z" fill="#8c8c8c"/>
<line x1="201.00" y1="314.80" x2="224.50" y2="314.80" stroke="#000" stroke-width="1.9"/>
<line x1="236.00" y1="309.70" x2="259.50" y2="309.70" stroke="#000" stroke-width="1.9"/>
<text x="215.50" y="379.50" font-size="12.3" text-anchor="end" fill="#000" stroke="#000" stroke-width="0.6" transform="rotate(-45 215.50 379.50)">int/low</text>
<text x="250.30" y="379.30" font-size="12.3" text-anchor="end" fill="#000" stroke="#000" stroke-width="0.6" transform="rotate(-45 250.30 379.30)">high</text>
<line x1="336.95" y1="235.95" x2="336.95" y2="376.80" stroke="#000" stroke-width="2.1"/>
<line x1="331.35" y1="375.75" x2="406.00" y2="375.75" stroke="#000" stroke-width="2.1"/>
<line x1="331.35" y1="237.00" x2="336.95" y2="237.00" stroke="#000" stroke-width="2.1"/>
<text x="331.65" y="242.56" font-size="13.9" text-anchor="end" fill="#000" stroke="#000" stroke-width="0.4">100</text>
<line x1="331.35" y1="271.69" x2="336.95" y2="271.69" stroke="#000" stroke-width="2.1"/>
<text x="331.65" y="277.25" font-size="13.9" text-anchor="end" fill="#000" stroke="#000" stroke-width="0.4">75</text>
<line x1="331.35" y1="306.38" x2="336.95" y2="306.38" stroke="#000" stroke-width="2.1"/>
<text x="331.65" y="311.94" font-size="13.9" text-anchor="end" fill="#000" stroke="#000" stroke-width="0.4">50</text>
<line x1="331.35" y1="341.06" x2="336.95" y2="341.06" stroke="#000" stroke-width="2.1"/>
<text x="331.65" y="346.62" font-size="13.9" text-anchor="end" fill="#000" stroke="#000" stroke-width="0.4">25</text>
<line x1="331.35" y1="375.75" x2="336.95" y2="375.75" stroke="#000" stroke-width="2.1"/>
<text x="331.65" y="381.31" font-size="13.9" text-anchor="end" fill="#000" stroke="#000" stroke-width="0.4">0</text>
<text x="308.20" y="302.50" font-size="13.3" text-anchor="middle" fill="#000" stroke="#000" stroke-width="0.6" transform="rotate(-90 308.20 302.50)">CLL cells/&#956;L</text>
<text x="327.00" y="229.50" font-size="9.6" text-anchor="start" fill="#000" stroke="#000" stroke-width="0.45">x10<tspan font-size="6.8" dy="-3.4">3</tspan></text>
<path d="M350.85 303.16H358.15L354.50 310.24Z" fill="#000"/>
<path d="M350.85 315.46H358.15L354.50 322.54Z" fill="#000"/>
<path d="M356.85 328.46H364.15L360.50 335.54Z" fill="#000"/>
<path d="M345.65 332.06H352.95L349.30 339.14Z" fill="#000"/>
<path d="M350.85 332.06H358.15L354.50 339.14Z" fill="#000"/>
<path d="M355.65 337.96H362.95L359.30 345.04Z" fill="#000"/>
<path d="M353.35 342.96H360.65L357.00 350.04Z" fill="#000"/>
<path d="M345.65 343.96H352.95L349.30 351.04Z" fill="#000"/>
<path d="M350.35 347.46H357.65L354.00 354.54Z" fill="#000"/>
<path d="M347.15 350.26H354.45L350.80 357.34Z" fill="#000"/>
<path d="M354.35 350.26H361.65L358.00 357.34Z" fill="#000"/>
<path d="M345.25 355.96H352.55L348.90 363.04Z" fill="#000"/>
<path d="M350.25 355.96H357.55L353.90 363.04Z" fill="#000"/>
<path d="M355.25 355.96H362.55L358.90 363.04Z" fill="#000"/>
<path d="M343.35 358.96H350.65L347.00 366.04Z" fill="#000"/>
<path d="M347.95 358.96H355.25L351.60 366.04Z" fill="#000"/>
<path d="M352.55 358.96H359.85L356.20 366.04Z" fill="#000"/>
<path d="M357.15 358.96H364.45L360.80 366.04Z" fill="#000"/>
<path d="M341.65 361.86H348.95L345.30 368.94Z" fill="#000"/>
<path d="M345.95 361.86H353.25L349.60 368.94Z" fill="#000"/>
<path d="M350.25 361.86H357.55L353.90 368.94Z" fill="#000"/>
<path d="M354.55 361.86H361.85L358.20 368.94Z" fill="#000"/>
<path d="M358.85 361.86H366.15L362.50 368.94Z" fill="#000"/>
<path d="M343.80 364.46H351.10L347.45 371.54Z" fill="#000"/>
<path d="M348.10 364.46H355.40L351.75 371.54Z" fill="#000"/>
<path d="M352.40 364.46H359.70L356.05 371.54Z" fill="#000"/>
<path d="M356.70 364.46H364.00L360.35 371.54Z" fill="#000"/>
<path d="M346.05 366.86H353.35L349.70 373.94Z" fill="#000"/>
<path d="M350.25 366.86H357.55L353.90 373.94Z" fill="#000"/>
<path d="M354.45 366.86H361.75L358.10 373.94Z" fill="#000"/>
<path d="M348.45 368.86H355.75L352.10 375.94Z" fill="#000"/>
<path d="M352.05 368.86H359.35L355.70 375.94Z" fill="#000"/>
<path d="M350.25 370.06H357.55L353.90 377.14Z" fill="#000"/>
<path d="M379.50 275.19H386.50L383.00 268.41Z" fill="#8c8c8c"/>
<path d="M390.50 282.89H397.50L394.00 276.11Z" fill="#8c8c8c"/>
<path d="M385.30 308.89H392.30L388.80 302.11Z" fill="#8c8c8c"/>
<path d="M385.30 322.39H392.30L388.80 315.61Z" fill="#8c8c8c"/>
<path d="M379.00 331.39H386.00L382.50 324.61Z" fill="#8c8c8c"/>
<path d="M385.00 337.89H392.00L388.50 331.11Z" fill="#8c8c8c"/>
<path d="M391.50 337.39H398.50L395.00 330.61Z" fill="#8c8c8c"/>
<path d="M391.00 345.39H398.00L394.50 338.61Z" fill="#8c8c8c"/>
<path d="M378.50 347.89H385.50L382.00 341.11Z" fill="#8c8c8c"/>
<path d="M388.00 351.39H395.00L391.50 344.61Z" fill="#8c8c8c"/>
<path d="M383.50 354.89H390.50L387.00 348.11Z" fill="#8c8c8c"/>
<path d="M385.30 374.89H392.30L388.80 368.11Z" fill="#8c8c8c"/>
<line x1="343.00" y1="356.00" x2="366.00" y2="356.00" stroke="#000" stroke-width="1.9"/>
<line x1="377.50" y1="328.30" x2="400.00" y2="328.30" stroke="#000" stroke-width="1.9"/>
<path d="M353.80 298.60V256.30H388.80V265.80" fill="none" stroke="#000" stroke-width="2.0" stroke-linejoin="miter"/>
<text x="373.00" y="259.30" font-size="18" text-anchor="middle" fill="#000" stroke="#000" stroke-width="0.4" letter-spacing="2.9">**</text>
<text x="356.50" y="384.30" font-size="12.3" text-anchor="end" fill="#000" stroke="#000" stroke-width="0.6" transform="rotate(-45 356.50 384.30)">int/low</text>
<text x="391.50" y="384.50" font-size="12.3" text-anchor="end" fill="#000" stroke="#000" stroke-width="0.6" transform="rotate(-45 391.50 384.50)">high</text>
<path d="M23.8 553.5L24.5 540.0L25.3 522.0L26.2 510.0L27.1 500.0L28.0 492.0L28.8 486.1L29.7 480.0L30.6 474.6L31.3 468.0L31.7 464.8L32.3 463.6L32.8 466.0L33.2 467.7L33.9 461.0L34.6 456.1L35.1 453.5L35.5 452.1L36.1 455.5L36.7 458.5L37.4 455.0L38.1 452.7L38.8 455.5L39.5 457.3L40.5 455.0L41.5 453.8L42.1 457.0L42.7 459.6L43.5 460.5L44.4 462.5L45.2 464.0L46.1 466.5L47.0 471.0L47.9 478.0L49.0 486.0L50.0 492.0L53.0 505.0L57.0 522.0L60.0 535.0L64.0 553.5Z" fill="#a3a3a3"/>
<path d="M25.4 553.5L26.7 551.2L28.0 549.1L29.0 547.6L30.0 546.3L31.0 545.0L32.0 543.1L33.0 541.6L34.0 540.0L35.0 538.2L36.0 535.4L37.0 533.6L38.0 531.3L39.0 528.9L40.0 525.4L41.0 520.9L42.0 519.0L43.0 515.3L44.0 510.8L45.0 507.0L46.2 498.5L47.5 490.8L48.5 485.6L49.6 476.5L50.8 471.9L52.0 467.1L53.0 462.4L54.0 461.1L55.4 455.1L56.5 463.2L57.5 466.5L58.5 472.1L59.8 478.9L61.0 487.1L62.2 495.9L63.5 505.0L64.7 516.4L65.8 525.6L67.3 540.2L68.5 553.5Z" fill="#000"/>
<path d="M68.5 553.2L70.5 548.0L72.7 542.7L75.5 536.0L78.0 528.5L80.3 519.0L82.0 508.0L83.7 496.0L85.4 481.5L87.0 468.0L88.4 458.5L89.5 454.0L90.7 452.5L92.0 454.5L93.5 460.8L95.2 476.0L97.0 493.0L98.7 511.0L100.4 527.7L102.0 539.0L103.9 546.0L106.5 550.5L109.6 552.8L115.0 553.3L130.5 553.4" fill="none" stroke="#000" stroke-width="1.5" stroke-linejoin="round"/>
<rect x="22.4" y="445.8" width="108.6" height="108.40000000000003" fill="none" stroke="#7d7d7d" stroke-width="1"/>
<line x1="24.50" y1="554.20" x2="24.50" y2="555.80" stroke="#666" stroke-width="0.6"/>
<line x1="27.50" y1="554.20" x2="27.50" y2="555.80" stroke="#666" stroke-width="0.6"/>
<line x1="29.50" y1="554.20" x2="29.50" y2="555.80" stroke="#666" stroke-width="0.6"/>
<line x1="31.00" y1="554.20" x2="31.00" y2="555.80" stroke="#666" stroke-width="0.6"/>
<line x1="32.20" y1="554.20" x2="32.20" y2="555.80" stroke="#666" stroke-width="0.6"/>
<line x1="33.20" y1="554.20" x2="33.20" y2="555.80" stroke="#666" stroke-width="0.6"/>
<line x1="45.00" y1="554.20" x2="45.00" y2="555.80" stroke="#666" stroke-width="0.6"/>
<line x1="52.00" y1="554.20" x2="52.00" y2="555.80" stroke="#666" stroke-width="0.6"/>
<line x1="56.00" y1="554.20" x2="56.00" y2="555.80" stroke="#666" stroke-width="0.6"/>
<line x1="59.00" y1="554.20" x2="59.00" y2="555.80" stroke="#666" stroke-width="0.6"/>
<line x1="61.30" y1="554.20" x2="61.30" y2="555.80" stroke="#666" stroke-width="0.6"/>
<line x1="63.20" y1="554.20" x2="63.20" y2="555.80" stroke="#666" stroke-width="0.6"/>
<line x1="64.80" y1="554.20" x2="64.80" y2="555.80" stroke="#666" stroke-width="0.6"/>
<line x1="66.20" y1="554.20" x2="66.20" y2="555.80" stroke="#666" stroke-width="0.6"/>
<line x1="78.00" y1="554.20" x2="78.00" y2="555.80" stroke="#666" stroke-width="0.6"/>
<line x1="85.00" y1="554.20" x2="85.00" y2="555.80" stroke="#666" stroke-width="0.6"/>
<line x1="89.00" y1="554.20" x2="89.00" y2="555.80" stroke="#666" stroke-width="0.6"/>
<line x1="92.00" y1="554.20" x2="92.00" y2="555.80" stroke="#666" stroke-width="0.6"/>
<line x1="94.30" y1="554.20" x2="94.30" y2="555.80" stroke="#666" stroke-width="0.6"/>
<line x1="96.20" y1="554.20" x2="96.20" y2="555.80" stroke="#666" stroke-width="0.6"/>
<line x1="97.80" y1="554.20" x2="97.80" y2="555.80" stroke="#666" stroke-width="0.6"/>
<line x1="99.20" y1="554.20" x2="99.20" y2="555.80" stroke="#666" stroke-width="0.6"/>
<line x1="111.00" y1="554.20" x2="111.00" y2="555.80" stroke="#666" stroke-width="0.6"/>
<line x1="118.00" y1="554.20" x2="118.00" y2="555.80" stroke="#666" stroke-width="0.6"/>
<line x1="122.00" y1="554.20" x2="122.00" y2="555.80" stroke="#666" stroke-width="0.6"/>
<line x1="125.00" y1="554.20" x2="125.00" y2="555.80" stroke="#666" stroke-width="0.6"/>
<line x1="127.30" y1="554.20" x2="127.30" y2="555.80" stroke="#666" stroke-width="0.6"/>
<line x1="20.80" y1="450.00" x2="22.40" y2="450.00" stroke="#666" stroke-width="0.6"/>
<line x1="20.80" y1="467.00" x2="22.40" y2="467.00" stroke="#666" stroke-width="0.6"/>
<line x1="20.80" y1="486.00" x2="22.40" y2="486.00" stroke="#666" stroke-width="0.6"/>
<line x1="20.80" y1="505.00" x2="22.40" y2="505.00" stroke="#666" stroke-width="0.6"/>
<line x1="20.80" y1="524.00" x2="22.40" y2="524.00" stroke="#666" stroke-width="0.6"/>
<line x1="20.80" y1="543.00" x2="22.40" y2="543.00" stroke="#666" stroke-width="0.6"/>
<text x="46.80" y="457.30" font-size="10.6" text-anchor="start" fill="#000" stroke="#000" stroke-width="0.6">B-cells</text>
<text x="97.00" y="457.30" font-size="10.6" text-anchor="start" fill="#000" stroke="#000" stroke-width="0.6">CLL</text>
<text x="11.80" y="503.00" font-size="14.1" text-anchor="middle" fill="#000" stroke="#000" stroke-width="0.6" transform="rotate(-90 11.80 503.00)">cell count</text>
<path d="M7.9 545.5V574.8H32.5" fill="none" stroke="#000" stroke-width="1.9"/>
<text x="36.30" y="578.30" font-size="14.6" text-anchor="start" fill="#000" stroke="#000" stroke-width="0.4">CellROX</text>
<line x1="195.20" y1="428.20" x2="195.20" y2="569.35" stroke="#000" stroke-width="2.1"/>
<line x1="189.60" y1="568.30" x2="263.80" y2="568.30" stroke="#000" stroke-width="2.1"/>
<line x1="189.60" y1="429.25" x2="195.20" y2="429.25" stroke="#000" stroke-width="2.1"/>
<text x="189.90" y="434.81" font-size="13.9" text-anchor="end" fill="#000" stroke="#000" stroke-width="0.4">8000</text>
<line x1="189.60" y1="464.01" x2="195.20" y2="464.01" stroke="#000" stroke-width="2.1"/>
<text x="189.90" y="469.57" font-size="13.9" text-anchor="end" fill="#000" stroke="#000" stroke-width="0.4">6000</text>
<line x1="189.60" y1="498.77" x2="195.20" y2="498.77" stroke="#000" stroke-width="2.1"/>
<text x="189.90" y="504.33" font-size="13.9" text-anchor="end" fill="#000" stroke="#000" stroke-width="0.4">4000</text>
<line x1="189.60" y1="533.54" x2="195.20" y2="533.54" stroke="#000" stroke-width="2.1"/>
<text x="189.90" y="539.10" font-size="13.9" text-anchor="end" fill="#000" stroke="#000" stroke-width="0.4">2000</text>
<line x1="189.60" y1="568.30" x2="195.20" y2="568.30" stroke="#000" stroke-width="2.1"/>
<text x="189.90" y="573.86" font-size="13.9" text-anchor="end" fill="#000" stroke="#000" stroke-width="0.4">0</text>
<text x="154.30" y="496.00" font-size="13.3" text-anchor="middle" fill="#000" stroke="#000" stroke-width="0.6" transform="rotate(-90 154.30 496.00)">CellROX [MFI]</text>
<rect x="243.70" y="464.70" width="6.60" height="6.60" fill="none" stroke="#2a2a2a" stroke-width="1.2"/>
<rect x="238.50" y="498.00" width="6.60" height="6.60" fill="none" stroke="#2a2a2a" stroke-width="1.2"/>
<rect x="249.20" y="496.20" width="6.60" height="6.60" fill="none" stroke="#2a2a2a" stroke-width="1.2"/>
<rect x="243.70" y="516.70" width="6.60" height="6.60" fill="none" stroke="#2a2a2a" stroke-width="1.2"/>
<rect x="249.20" y="520.50" width="6.60" height="6.60" fill="none" stroke="#2a2a2a" stroke-width="1.2"/>
<rect x="238.50" y="526.70" width="6.60" height="6.60" fill="none" stroke="#2a2a2a" stroke-width="1.2"/>
<rect x="243.70" y="538.50" width="6.60" height="6.60" fill="none" stroke="#2a2a2a" stroke-width="1.2"/>
<rect x="237.70" y="541.00" width="6.60" height="6.60" fill="none" stroke="#2a2a2a" stroke-width="1.2"/>
<rect x="249.70" y="542.20" width="6.60" height="6.60" fill="none" stroke="#2a2a2a" stroke-width="1.2"/>
<rect x="243.70" y="550.50" width="6.60" height="6.60" fill="none" stroke="#2a2a2a" stroke-width="1.2"/>
<circle cx="207.10" cy="555.20" r="3.6" fill="#000"/>
<circle cx="217.90" cy="553.80" r="3.6" fill="#000"/>
<circle cx="204.30" cy="560.60" r="3.6" fill="#000"/>
<circle cx="208.70" cy="561.30" r="3.6" fill="#000"/>
<circle cx="213.30" cy="561.30" r="3.6" fill="#000"/>
<circle cx="217.80" cy="560.40" r="3.6" fill="#000"/>
<circle cx="207.30" cy="563.00" r="3.6" fill="#000"/>
<circle cx="211.30" cy="563.60" r="3.6" fill="#000"/>
<circle cx="215.20" cy="563.00" r="3.6" fill="#000"/>
<circle cx="220.00" cy="559.50" r="3.6" fill="#000"/>
<line x1="235.80" y1="522.80" x2="258.80" y2="522.80" stroke="#000" stroke-width="1.9"/>
<line x1="201.00" y1="559.20" x2="223.80" y2="559.20" stroke="#000" stroke-width="1.9"/>
<path d="M211.80 443.50V438.00H245.50V443.50" fill="none" stroke="#000" stroke-width="2.0" stroke-linejoin="miter"/>
<text x="230.75" y="439.65" font-size="18" text-anchor="middle" fill="#000" stroke="#000" stroke-width="0.4" letter-spacing="2.9">***</text>
<text x="215.70" y="576.60" font-size="13.8" text-anchor="end" fill="#000" stroke="#000" stroke-width="0.6" transform="rotate(-45 215.70 576.60)">HD</text>
<text x="249.70" y="577.50" font-size="14.2" text-anchor="end" fill="#000" stroke="#000" stroke-width="0.6" transform="rotate(-45 249.70 577.50)">CLL</text>
<rect x="342.8" y="431.8" width="8.6" height="96.22" fill="url(#hb)"/>
<rect x="342.8" y="528.02" width="8.6" height="41.58" fill="url(#ck)"/>
<rect x="358.2" y="431.8" width="8.8" height="54.64" fill="url(#hb)"/>
<rect x="358.2" y="486.44" width="8.8" height="83.16" fill="url(#ck)"/>
<line x1="339.00" y1="429.95" x2="339.00" y2="570.65" stroke="#000" stroke-width="2.1"/>
<line x1="333.50" y1="569.60" x2="370.00" y2="569.60" stroke="#000" stroke-width="2.1"/>
<line x1="333.50" y1="431.00" x2="339.00" y2="431.00" stroke="#000" stroke-width="2.1"/>
<text x="333.80" y="435.16" font-size="10.4" text-anchor="end" fill="#000" stroke="#000" stroke-width="0.3">100</text>
<line x1="333.50" y1="458.72" x2="339.00" y2="458.72" stroke="#000" stroke-width="2.1"/>
<text x="333.80" y="462.88" font-size="10.4" text-anchor="end" fill="#000" stroke="#000" stroke-width="0.3">80</text>
<line x1="333.50" y1="486.44" x2="339.00" y2="486.44" stroke="#000" stroke-width="2.1"/>
<text x="333.80" y="490.60" font-size="10.4" text-anchor="end" fill="#000" stroke="#000" stroke-width="0.3">60</text>
<line x1="333.50" y1="514.16" x2="339.00" y2="514.16" stroke="#000" stroke-width="2.1"/>
<text x="333.80" y="518.32" font-size="10.4" text-anchor="end" fill="#000" stroke="#000" stroke-width="0.3">40</text>
<line x1="333.50" y1="541.88" x2="339.00" y2="541.88" stroke="#000" stroke-width="2.1"/>
<text x="333.80" y="546.04" font-size="10.4" text-anchor="end" fill="#000" stroke="#000" stroke-width="0.3">20</text>
<line x1="333.50" y1="569.60" x2="339.00" y2="569.60" stroke="#000" stroke-width="2.1"/>
<text x="333.80" y="573.76" font-size="10.4" text-anchor="end" fill="#000" stroke="#000" stroke-width="0.3">0</text>
<text x="312.80" y="498.30" font-size="13.0" text-anchor="middle" fill="#000" stroke="#000" stroke-width="0.4" transform="rotate(-90 312.80 498.30)">% fraction of patients</text>
<text x="381.20" y="440.10" font-size="11" text-anchor="start" font-style="italic" fill="#000" stroke="#000" stroke-width="0.25" word-spacing="1.6">P = .031</text>
<text x="350.00" y="579.40" font-size="12" text-anchor="end" fill="#000" stroke="#000" stroke-width="0.6" transform="rotate(-45 350.00 579.40)">int/low</text>
<text x="364.80" y="578.80" font-size="12" text-anchor="end" fill="#000" stroke="#000" stroke-width="0.6" transform="rotate(-45 364.80 578.80)">high</text>
<rect x="413" y="537.4" width="14.3" height="14.4" fill="url(#hl)"/>
<rect x="413" y="557" width="14.5" height="14.4" fill="url(#ck)"/>
<text x="429.70" y="547.00" font-size="14.5" text-anchor="start" fill="#000" stroke="#000" stroke-width="0.35">no-doubling</text>
<text x="430.00" y="568.60" font-size="14.5" text-anchor="start" fill="#000" stroke="#000" stroke-width="0.35">doubling</text>
</svg>
</body></html>
